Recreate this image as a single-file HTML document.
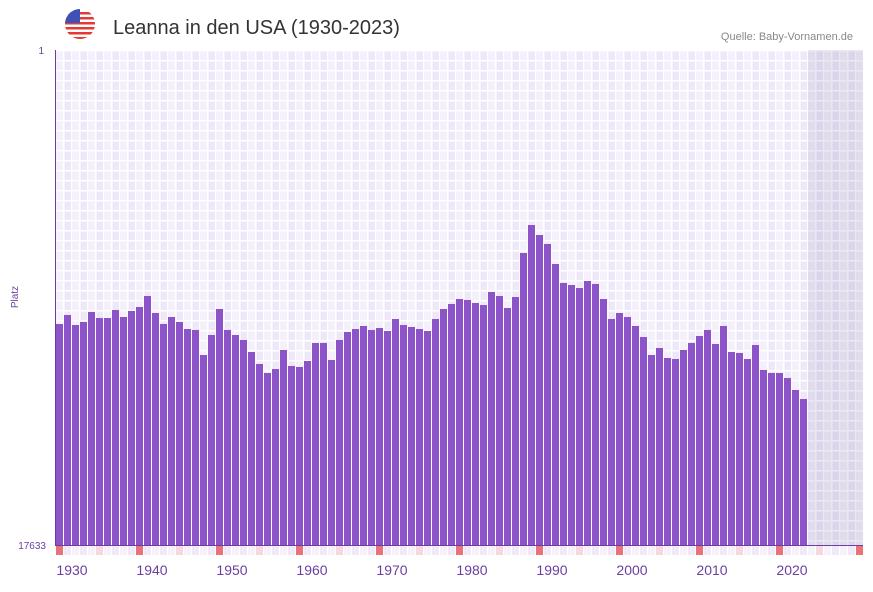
<!DOCTYPE html>
<html><head><meta charset="utf-8"><style>
body{margin:0;width:873px;height:587px;background:#fff;font-family:"Liberation Sans",sans-serif;overflow:hidden}
</style></head><body>
<svg width="873" height="587" xmlns="http://www.w3.org/2000/svg">
<defs>
<pattern id="g" x="56" y="50" width="16" height="20" patternUnits="userSpaceOnUse">
<rect width="16" height="20" fill="#f4f0fc"/>
<rect x="8" width="8" height="20" fill="#ede7f8"/>
<rect y="0" width="16" height="1.5" fill="#fff"/><rect y="10" width="16" height="1.5" fill="#fff"/>
<rect x="7" width="1.5" height="20" fill="#fff"/><rect x="15" width="1.5" height="20" fill="#fff"/>
</pattern>
<clipPath id="c"><circle cx="80" cy="24" r="15"/></clipPath>
</defs>
<g clip-path="url(#c)">
<rect x="65" y="9" width="30" height="30" fill="#fff"/>
<rect x="65" y="12" width="30" height="2.5" fill="#e53935"/><rect x="65" y="17" width="30" height="2.5" fill="#e53935"/>
<rect x="65" y="22" width="30" height="2.5" fill="#e53935"/><rect x="65" y="27" width="30" height="2.5" fill="#e53935"/>
<rect x="65" y="32" width="30" height="2.5" fill="#e53935"/><rect x="65" y="37" width="30" height="2.5" fill="#e53935"/>
<rect x="65" y="9" width="15" height="14" fill="#3f51b5"/>
</g>
<text x="113" y="34" font-size="20" fill="#333">Leanna in den USA (1930-2023)</text>
<text x="853" y="40" font-size="11" fill="#888" text-anchor="end">Quelle: Baby-Vornamen.de</text>
<rect x="56" y="50" width="807" height="495" fill="url(#g)"/>
<rect x="808" y="50" width="55" height="495" fill="#7a6a9a" opacity="0.15"/>
<g id="bars" fill="#8c54c8"></g>
<g id="strip"></g>
<line x1="55.5" y1="50" x2="55.5" y2="545" stroke="#6a3fa0" stroke-width="1"/>
<line x1="55" y1="545.5" x2="863" y2="545.5" stroke="#6a3fa0" stroke-width="1"/>
<text x="44" y="54" font-size="10" fill="#6a3fa0" text-anchor="end">1</text>
<text x="46" y="549" font-size="10" fill="#6a3fa0" text-anchor="end">17633</text>
<text x="18" y="297" font-size="10" fill="#6a3fa0" text-anchor="middle" transform="rotate(-90 18 297)">Platz</text>
<g id="lab" font-size="14" fill="#6a3fa0" text-anchor="middle"></g>
</svg>
<script>
var t=[324,315,325,322,312,318,318,310,317,311,307,296,313,324,317,322,329,330,355,335,309,330,335,340,352,364,373,369,350,366,367,361,343,343,360,340,332,329,326,330,328,331,319,325,327,329,331,319,309,304,299,300,303,305,292,296,308,297,253,225,235,244,264,283,285,288,281,284,299,319,313,317,326,337,355,348,358,359,350,343,336,330,344,326,352,353,359,345,370,373,373,378,390,399];
var ns="http://www.w3.org/2000/svg",b=document.getElementById("bars"),s=document.getElementById("strip"),l=document.getElementById("lab");
t.forEach(function(y,i){var r=document.createElementNS(ns,"rect");r.setAttribute("x",56+i*8);r.setAttribute("y",y);r.setAttribute("width",7);r.setAttribute("height",545-y);b.appendChild(r);});
for(var i=0;i<101;i++){var r=document.createElementNS(ns,"rect");r.setAttribute("x",56+i*8);r.setAttribute("y",546);r.setAttribute("width",7);r.setAttribute("height",9);
r.setAttribute("fill",i%10==0?"#e8737a":i%10==5?"#f6d8e0":(i%2?"#efe9f8":"#f5f2fc"));s.appendChild(r);}
for(var k=0;k<10;k++){var x=document.createElementNS(ns,"text");x.setAttribute("x",72+k*80);x.setAttribute("y",575);x.textContent=1930+k*10;l.appendChild(x);}
</script>
</body></html>
